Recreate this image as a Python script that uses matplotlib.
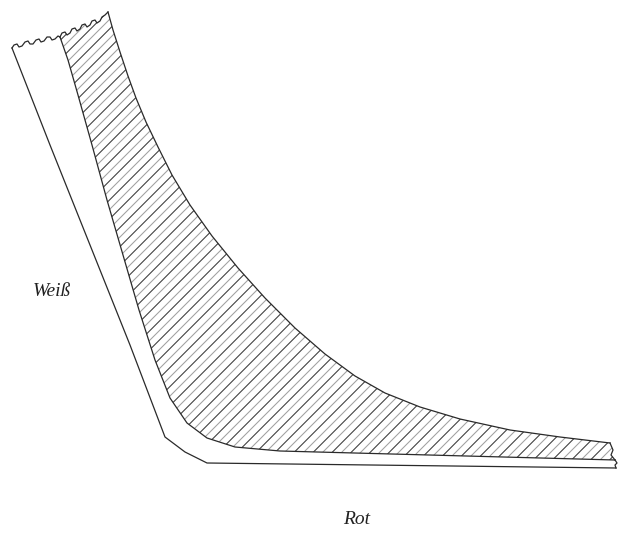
import numpy as np
import matplotlib.pyplot as plt
from matplotlib.patches import Polygon

# outline points of the drawing, in picture pixels (y downwards)
outer_line = [(12, 48), (50, 145), (90, 245), (130, 345), (165, 437), (185, 452), (207, 463), (616, 468)]
inner_line = [(60, 37), (68, 60), (78, 95), (92, 145), (107, 200), (123, 255), (139, 310), (155, 360),
              (170, 398), (187, 423), (207, 438), (235, 447), (280, 451), (615, 460)]
top_left_edge = [(12, 48), (14, 45), (17, 44), (19, 47), (22, 46), (25, 42), (28, 41), (30, 44),
                 (33, 44), (36, 40), (39, 39), (41, 42), (44, 41), (47, 37), (50, 37), (52, 40),
                 (55, 39), (58, 36), (60, 37)]
top_right_edge = [(60, 37), (62, 33), (65, 32), (67, 35), (70, 33), (72, 29), (75, 28), (77, 31),
                  (80, 29), (82, 25), (85, 24), (87, 27), (90, 25), (92, 21), (95, 20), (97, 23),
                  (100, 21), (102, 17), (105, 15), (108, 12)]
curve_edge = [(108, 12), (113, 30), (120, 52), (128, 76), (136, 98), (146, 122), (158, 147),
              (172, 175), (190, 205), (212, 236), (238, 268), (265, 298), (295, 328), (325, 354),
              (355, 376), (385, 393), (420, 407), (460, 419), (510, 430), (560, 437), (610, 443)]
right_edge = [(610, 443), (613, 450), (611, 455), (615, 460)]
band_end = [(615, 460), (617, 463), (615, 465), (616, 468)]

label_left = "Weiß"
label_bottom = "Rot"

fig = plt.figure(figsize=(6.2, 5.47), dpi=100)
ax = fig.add_axes([0, 0, 1, 1])
ax.set_xlim(0, 620)
ax.set_ylim(547, 0)
ax.axis('off')

ink = '#2a2a2a'

def draw(pts, **kw):
    a = np.array(pts)
    ax.plot(a[:, 0], a[:, 1], color=ink, lw=0.9, solid_joinstyle='round', **kw)

# hatched region
hatch_pts = top_right_edge + curve_edge[1:] + right_edge[1:] + inner_line[::-1][1:]
poly = Polygon(hatch_pts, closed=True, facecolor='none', edgecolor='none')
ax.add_patch(poly)
step = 9.5
for k, c in enumerate(np.arange(-700, 700, step)):
    xs = np.array([0, 620])
    ys = c - xs + 620
    ln, = ax.plot(xs, ys, color='#3a3a3a' if k % 2 else '#a0a0a0', lw=0.75)
    ln.set_clip_path(poly)

for pts in [outer_line, inner_line, top_left_edge, top_right_edge, curve_edge, right_edge, band_end]:
    draw(pts)

ax.text(52, 292, label_left, fontsize=14, family='Liberation Serif', style='italic',
        color='#222222', ha='center', va='center')
ax.text(357, 520, label_bottom, fontsize=14, family='Liberation Serif', style='italic',
        color='#222222', ha='center', va='center')

fig.savefig('out.png', dpi=100)
